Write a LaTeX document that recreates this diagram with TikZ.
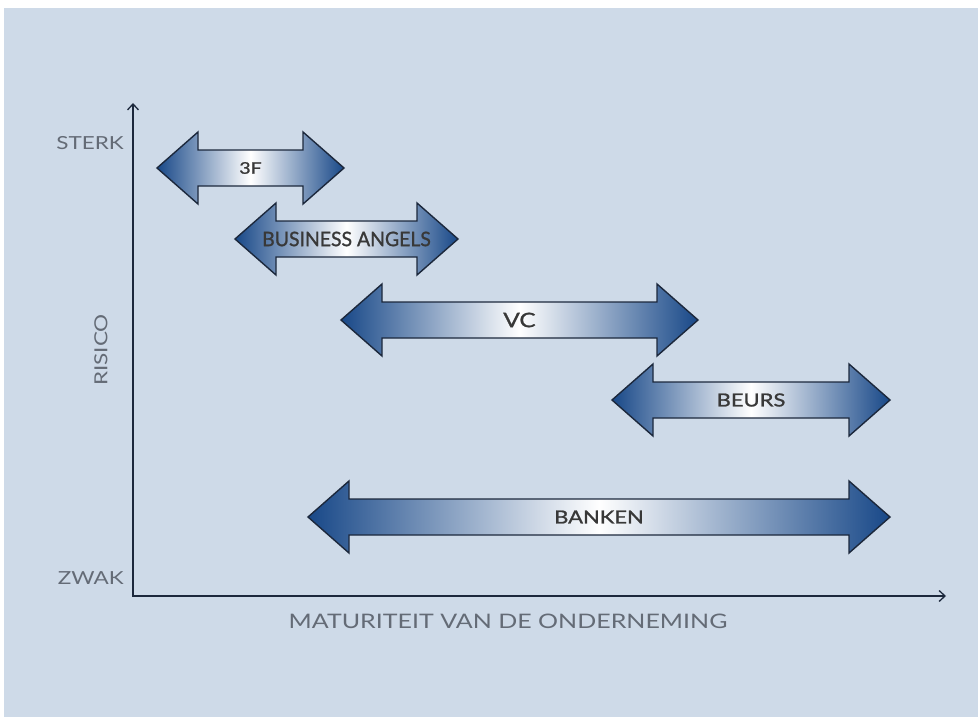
\documentclass[tikz,border=0pt]{standalone}
\usepackage{fontspec}
\setmainfont{Lato}
\newfontfamily\asfont{Lato}[FakeStretch=1.25]
\newfontfamily\pijlfont{Lato}[FakeStretch=1.22, FakeBold=1.2]
\newfontfamily\smalfont{Lato}[FakeStretch=0.97, FakeBold=1.2]
\usetikzlibrary{positioning, arrows.meta}

\definecolor{achtergrond}{RGB}{206,218,232}
\definecolor{pijlblauw}{RGB}{24,72,136}
\definecolor{rand}{RGB}{28,40,60}
\definecolor{asgrijs}{RGB}{100,107,118}

\tikzset{
  pijl/.style={draw=rand, line width=1.4pt, line join=miter,
    left color=pijlblauw, right color=pijlblauw, middle color=white},
  pijltekst/.style={text=black!78, font=\pijlfont\fontsize{18}{18}\selectfont, inner sep=0pt},
  aslabel/.style={text=asgrijs, font=\asfont\fontsize{18}{18}\selectfont, inner sep=0pt},
  as/.style={draw=rand, line width=1.3pt, {Straight Barb[length=6pt,width=11pt]}-{Straight Barb[length=6pt,width=11pt]}}
}

% name, left tip, right tip, height, text
\newcommand{\dubbelepijl}[5]{%
  \path[pijl] (#2,#4) -- ++(41,-36) -- ++(0,18) -- ({#3-41},{#4-18}) -- ++(0,-18)
    -- (#3,#4) -- ++(-41,36) -- ++(0,-18) -- ({#2+41},{#4+18}) -- ++(0,18) -- cycle;
  \node[pijltekst] (#1) at ({(#2+#3)/2},#4) {#5};
}

\begin{document}
\begin{tikzpicture}[x=1pt,y=-1pt]
\useasboundingbox (0,0) rectangle (978,717);
\fill[achtergrond] (4,8) rectangle (978,717);

\coordinate (ytop) at (133,103);
\coordinate (oorsprong) at (133,596);
\coordinate (xeind) at (946,596);
\draw[as] (ytop) -- (oorsprong) -- (xeind);

\node[aslabel, anchor=east] (sterk) at (124,143) {STERK};
\node[aslabel, anchor=east] (zwak) at (124,578) {ZWAK};
\node[aslabel, rotate=90] (risico) at (101,350) {RISICO};
\node[aslabel, font=\asfont\fontsize{20}{20}\selectfont] (maturiteit) at (508,621) {MATURITEIT VAN DE ONDERNEMING};

\dubbelepijl{drief}{157}{344}{168}{\fontsize{16}{16}\selectfont 3F}
\dubbelepijl{angels}{235}{458}{239}{\smalfont\fontsize{20}{20}\selectfont BUSINESS ANGELS}
\dubbelepijl{vc}{341}{698}{320}{\fontsize{20}{20}\selectfont VC}
\dubbelepijl{beurs}{612}{890}{400}{BEURS}
\dubbelepijl{banken}{308}{890}{517}{BANKEN}
\end{tikzpicture}
\end{document}
